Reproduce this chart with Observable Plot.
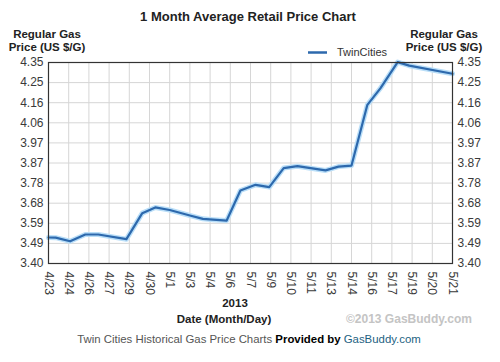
<!DOCTYPE html>
<html>
<head>
<meta charset="utf-8">
<script src="https://cdn.jsdelivr.net/npm/d3@7"></script>
<script src="https://cdn.jsdelivr.net/npm/@observablehq/plot@0.6"></script>
<style>
  html, body { margin: 0; padding: 0; background: #fff; }
  #chart { width: 500px; height: 362px; }
</style>
</head>
<body>
<div id="chart"></div>
<script>
// Days since 4/23/2013 and the average price ($/gal)
const days   = [0, 0.5, 1.5, 2.55, 3.45, 5.4, 6.5, 7.4, 8.4, 9.8, 10.7, 11.4, 12.35, 13.3, 14.35, 15.3, 16.3, 17.25, 19.2, 20.1, 21.0, 22.1, 23.0, 24.2, 25.0, 28];
const prices = [3.523, 3.522, 3.505, 3.537, 3.537, 3.515, 3.638, 3.665, 3.653, 3.627, 3.611, 3.607, 3.603, 3.745, 3.772, 3.761, 3.851, 3.860, 3.840, 3.858, 3.863, 4.150, 4.228, 4.352, 4.335, 4.297];
const xTickLabels = ["4/23","4/24","4/26","4/27","4/29","4/30","5/1","5/3","5/4","5/6","5/7","5/9","5/10","5/11","5/13","5/14","5/16","5/17","5/19","5/20","5/21"];
const yTickLabels = ["3.40","3.49","3.59","3.68","3.78","3.87","3.97","4.06","4.16","4.25","4.35"];
const seriesName = "TwinCities";

const data = days.map((d, i) => ({day: d, price: prices[i]}));
const xSpan = 28, yMin = 3.40, yMax = 4.35;
const xStep = xSpan / (xTickLabels.length - 1);
const yStep = (yMax - yMin) / (yTickLabels.length - 1);
const xTicks = xTickLabels.map((_, i) => i * xStep);
const yTicks = yTickLabels.map((_, i) => yMin + i * yStep);
const xFmt = d => xTickLabels[Math.round(d / xStep)];
const yFmt = d => yTickLabels[Math.round((d - yMin) / yStep)];

const font = "'Liberation Sans', Arial, sans-serif";

const svg = Plot.plot({
  width: 500, height: 362,
  marginTop: 62, marginBottom: 99, marginLeft: 48, marginRight: 48,
  x: {domain: [0, xSpan]},
  y: {domain: [yMin, yMax]},
  style: {fontFamily: font, fontSize: "12px", color: "#333", background: "#fff"},
  marks: [
    Plot.gridX(xTicks, {stroke: "#d6d6d6", strokeOpacity: 1}),
    Plot.gridY(yTicks, {stroke: "#d6d6d6", strokeOpacity: 1}),
    Plot.line(data, {x: "day", y: "price", stroke: "#b9def8", strokeWidth: 5}),
    Plot.line(data, {x: "day", y: "price", stroke: "#2d69ad", strokeWidth: 2.2}),
    Plot.frame({stroke: "#333", strokeWidth: 1.2}),
    Plot.axisX(xTicks, {tickSize: 0, tickRotate: 90, tickPadding: 8, tickFormat: xFmt, label: null, fill: "#3a3a3a"}),
    Plot.axisY(yTicks, {anchor: "left", tickSize: 0, tickPadding: 5, tickFormat: yFmt, label: null, fill: "#3a3a3a"}),
    Plot.axisY(yTicks, {anchor: "right", tickSize: 0, tickPadding: 5, tickFormat: yFmt, label: null, fill: "#3a3a3a"})
  ]
});

document.getElementById("chart").appendChild(svg);

const s = d3.select(svg);
function addText(x, y, txt, opts = {}) {
  return s.append("text")
    .attr("x", x).attr("y", y)
    .attr("text-anchor", opts.anchor || "middle")
    .attr("font-family", font)
    .attr("font-size", opts.size || 12)
    .attr("font-weight", opts.weight || "normal")
    .attr("fill", opts.fill || "#222")
    .text(txt);
}
addText(248, 21, "1 Month Average Retail Price Chart", {weight: "bold", size: 13});
addText(47, 38, "Regular Gas", {weight: "bold", size: 11.5});
addText(47, 51, "Price (US $/G)", {weight: "bold", size: 11.5});
addText(444, 38, "Regular Gas", {weight: "bold", size: 11.5});
addText(444, 51, "Price (US $/G)", {weight: "bold", size: 11.5});

// legend
s.append("line").attr("x1", 308).attr("x2", 327).attr("y1", 52.5).attr("y2", 52.5)
  .attr("stroke", "#2d69ad").attr("stroke-width", 2.5);
addText(337, 56, seriesName, {anchor: "start", size: 11, fill: "#333"});

addText(235, 307, "2013", {weight: "bold", size: 11.5});
addText(224, 323, "Date (Month/Day)", {weight: "bold", size: 11.5});
addText(409, 323, "\u00a92013 GasBuddy.com", {weight: "bold", size: 12, fill: "#c4c4c4"});

const foot = s.append("text").attr("x", 249).attr("y", 343).attr("text-anchor", "middle")
  .attr("font-family", font).attr("font-size", 11.4);
foot.append("tspan").attr("fill", "#555").text("Twin Cities Historical Gas Price Charts ");
foot.append("tspan").attr("fill", "#000").attr("font-weight", "bold").text("Provided by ");
foot.append("tspan").attr("fill", "#1d6282").text("GasBuddy.com");
</script>
</body>
</html>
